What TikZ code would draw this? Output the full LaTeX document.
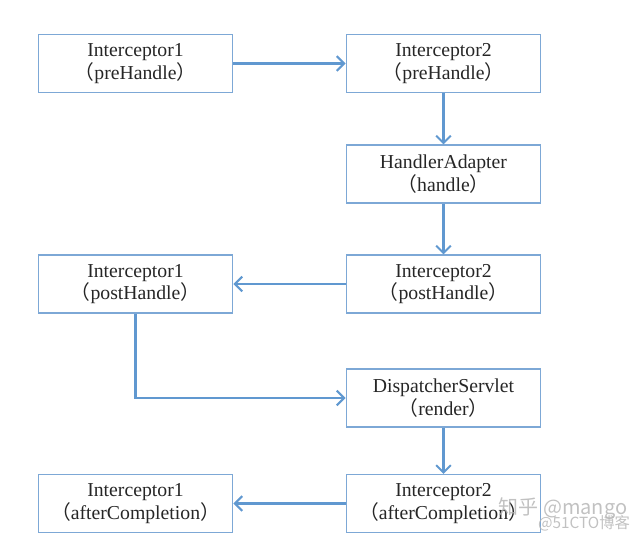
\documentclass[tikz,border=0pt]{standalone}
\usepackage{fontspec}
\setmainfont{Liberation Serif}
\newfontfamily\cjk{Noto Sans CJK SC}
\usetikzlibrary{arrows.meta}
\definecolor{boxblue}{RGB}{125,168,214}
\definecolor{flowblue}{RGB}{96,152,208}
\newcommand{\fwparen}[1]{{\cjk（}#1{\cjk）}}
\begin{document}
\begin{tikzpicture}[x=0.75pt,y=-0.75pt,
    stage/.style={shape=rectangle,draw=boxblue,line width=0.9pt,
        minimum width=146pt,minimum height=43.5pt,inner sep=1pt,align=center,
        font=\fontsize{14.8}{15.5}\selectfont,text=black!85},
    flow/.style={draw=flowblue,line width=1.6pt,-{Straight Barb[length=5.5pt,width=11pt,line width=1.5pt]}},
    wmark/.style={text=black!30,text opacity=0.8,inner sep=0pt}]
        \useasboundingbox (0,0) rectangle (644,542);

        \node[stage] (A) at (135.5,63.5) {Interceptor1\\\fwparen{preHandle}};
        \node[stage] (B) at (443.5,63.5) {Interceptor2\\\fwparen{preHandle}};
        \node[stage] (C) at (443.5,174) {HandlerAdapter\\\fwparen{handle}};
        \node[stage] (D) at (443.5,284) {Interceptor2\\\fwparen{postHandle}};
        \node[stage] (E) at (135.5,284) {Interceptor1\\\fwparen{postHandle}};
        \node[stage] (F) at (443.5,398) {DispatcherServlet\\\fwparen{render}};
        \node[stage] (G) at (443.5,503.5) {Interceptor2\\\fwparen{afterCompletion}};
        \node[stage] (H) at (135.5,503.5) {Interceptor1\\\fwparen{afterCompletion}};

        % call order
        \path [flow] (A) edge (B);
        \path [flow] (B) edge (C);
        \path [flow] (C) edge (D);
        \path [flow] (D) edge (E);
        \draw [flow] (E) |- (F);
        \path [flow] (F) edge (G);
        \path [flow] (G) edge (H);

        % watermark
        \node[wmark,font=\cjk\fontsize{15}{15}\selectfont] (W1) at (563,509) {知乎 @mango};
        \node[wmark,font=\cjk\fontsize{11.5}{12}\selectfont] (W2) at (584,523) {@51CTO博客};
    \end{tikzpicture}
\end{document}
